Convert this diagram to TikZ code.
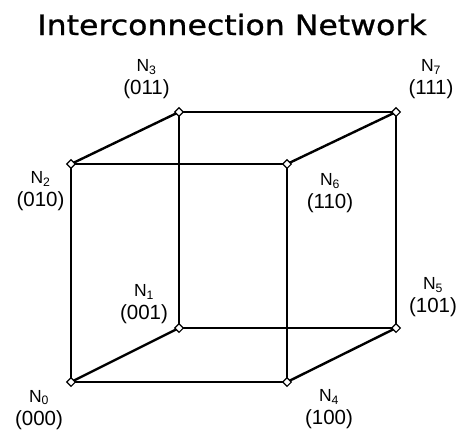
\documentclass[tikz,border=0pt]{standalone}
\usepackage{fontspec}
\setmainfont{Liberation Sans}
\newfontfamily\titlefont[FakeBold=0.8]{DejaVu Sans}
\usetikzlibrary{shapes.geometric}
\newcommand{\nlab}[1]{{\fontsize{17.5}{22.5}\selectfont N\textsubscript{#1}}}
\begin{document}
\begin{tikzpicture}[x=1pt,y=-1pt,
  vert/.style={diamond,draw,fill=white,line width=1.1pt,minimum size=9pt,inner sep=0pt},
  edge/.style={line width=2.4pt},
  lab/.style={align=center,font=\fontsize{20.5}{22.8}\selectfont,inner sep=0pt,anchor=base}]
\useasboundingbox[fill=white] (0,0) rectangle (461,429);
\node[anchor=base,inner sep=0pt] (title) at (232,35) {\scalebox{1.128}[1]{\titlefont\fontsize{28}{30}\selectfont Interconnection Network}};
% vertex coordinates
\coordinate (p0) at (71,382);
\coordinate (p1) at (179,328);
\coordinate (p2) at (71,164);
\coordinate (p3) at (179,112);
\coordinate (p4) at (287,382);
\coordinate (p5) at (396,328);
\coordinate (p6) at (287,164);
\coordinate (p7) at (396,112);
% edges
\draw[edge] (p0) -- (p1);
\draw[edge] (p0) -- (p2);
\draw[edge] (p0) -- (p4);
\draw[edge] (p1) -- (p3);
\draw[edge] (p1) -- (p5);
\draw[edge] (p2) -- (p3);
\draw[edge] (p2) -- (p6);
\draw[edge] (p3) -- (p7);
\draw[edge] (p4) -- (p5);
\draw[edge] (p4) -- (p6);
\draw[edge] (p5) -- (p7);
\draw[edge] (p6) -- (p7);
% vertices
\foreach \i in {0,...,7} \node[vert] (n\i) at (p\i) {};
% labels (anchor = baseline of the last line)
\node[lab] (l3) at (146.5,94.3) {\nlab{3}\\(011)};
\node[lab] (l7) at (431,94.3) {\nlab{7}\\(111)};
\node[lab] (l2) at (40.5,206.3) {\nlab{2}\\(010)};
\node[lab] (l6) at (330,208.3) {\nlab{6}\\(110)};
\node[lab] (l1) at (144,319.3) {\nlab{1}\\(001)};
\node[lab] (l5) at (433,312.3) {\nlab{5}\\(101)};
\node[lab] (l0) at (39,425) {\nlab{0}\\(000)};
\node[lab] (l4) at (329,424.5) {\nlab{4}\\(100)};
\end{tikzpicture}
\end{document}
